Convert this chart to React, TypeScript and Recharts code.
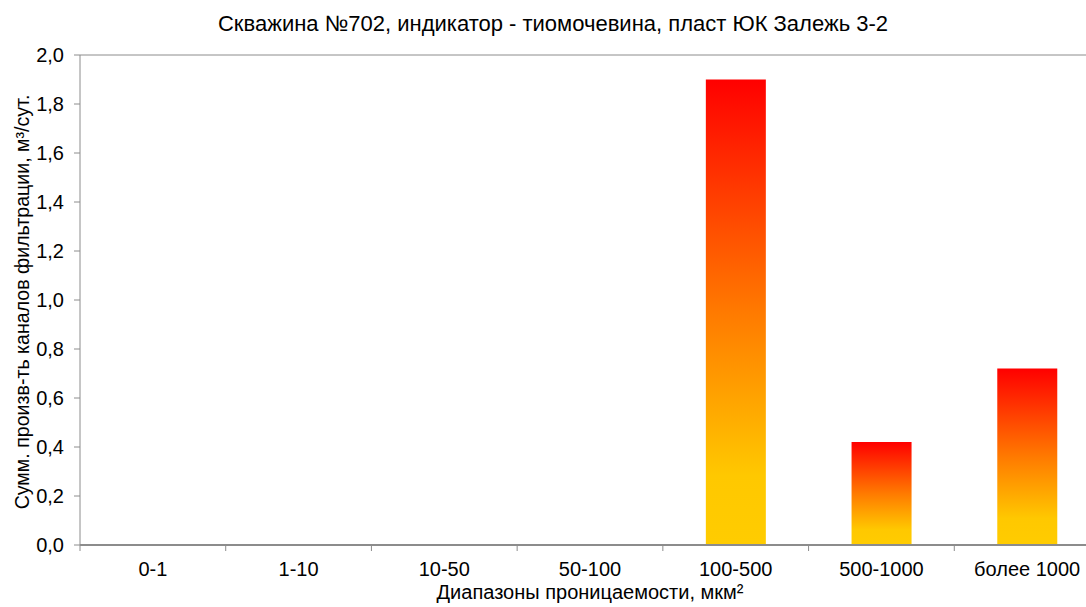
import React from 'react';
import { BarChart, Bar, XAxis, YAxis, ReferenceLine } from 'recharts';

// диапазоны проницаемости, мкм²
const ranges = ['0-1', '1-10', '10-50', '50-100', '100-500', '500-1000', 'более 1000'];
// суммарная производительность каналов, м³/сут.
const flowRates = [0, 0, 0, 0, 1.9, 0.42, 0.72];
const yTicks = [0, 0.2, 0.4, 0.6, 0.8, 1.0, 1.2, 1.4, 1.6, 1.8, 2.0];

const chartData = ranges.map((range, i) => ({ range, value: flowRates[i] }));

const FONT = '"Liberation Sans", Arial, sans-serif';
const AXIS_COLOR = '#8c8c8c';

// подпись категории + засечка на левой границе интервала
const RangeTick = ({ x, y, payload }: any) => {
  const half = payload.offset ?? 0;
  return (
    <g>
      <line x1={x - half} y1={y - 17} x2={x - half} y2={y - 11} stroke={AXIS_COLOR} strokeWidth={1} />
      <text x={x} y={y} dy={14} textAnchor="middle" fill="#000" fontSize={20} fontFamily={FONT}>
        {payload.value}
      </text>
    </g>
  );
};

const App: React.FC = () => {
  return (
    <div
      style={{
        position: 'absolute',
        left: 0,
        top: 0,
        width: 1086,
        height: 607,
        overflow: 'hidden',
        background: '#fff',
        fontFamily: FONT,
      }}
    >
      <div
        style={{
          position: 'absolute',
          left: 0,
          top: 10,
          width: 1106,
          textAlign: 'center',
          fontSize: 22,
          lineHeight: '28px',
          color: '#000',
        }}
      >
        Скважина №702, индикатор - тиомочевина, пласт ЮК Залежь 3-2
      </div>
      <div
        style={{
          position: 'absolute',
          left: 22 - 300,
          top: 302 - 12,
          width: 600,
          height: 24,
          textAlign: 'center',
          fontSize: 19.6,
          lineHeight: '24px',
          color: '#000',
          transform: 'rotate(-90deg)',
          whiteSpace: 'nowrap',
        }}
      >
        Сумм. произв-ть каналов фильтрации, м³/сут.
      </div>
      <BarChart
        width={1110}
        height={607}
        data={chartData}
        margin={{ top: 55, right: 10, bottom: 0, left: 0 }}
        barCategoryGap="29.5%"
      >
        <defs>
          <linearGradient id="barFill" x1="0" y1="0" x2="0" y2="1">
            <stop offset="0%" stopColor="#ff0000" />
            <stop offset="50%" stopColor="#ff7a00" />
            <stop offset="85%" stopColor="#ffc800" />
            <stop offset="100%" stopColor="#ffcc00" />
          </linearGradient>
        </defs>
        <XAxis
          dataKey="range"
          height={62}
          interval={0}
          tickLine={false}
          tickSize={6}
          tickMargin={11}
          axisLine={{ stroke: AXIS_COLOR, strokeWidth: 2 }}
          tick={<RangeTick />}
          label={{
            value: 'Диапазоны проницаемости, мкм²',
            position: 'insideBottom',
            offset: 8,
            fill: '#000',
            fontSize: 20,
            fontFamily: FONT,
          }}
        />
        <YAxis
          width={80}
          domain={[0, 2]}
          ticks={yTicks}
          interval={0}
          tickSize={6}
          tickMargin={10}
          tickFormatter={(v: number) => v.toFixed(1).replace('.', ',')}
          tick={{ fill: '#000', fontSize: 20, fontFamily: FONT }}
          tickLine={{ stroke: AXIS_COLOR }}
          axisLine={{ stroke: AXIS_COLOR }}
        />
        <ReferenceLine y={2} stroke={AXIS_COLOR} strokeWidth={1} />
        <Bar dataKey="value" fill="url(#barFill)" isAnimationActive={false} />
      </BarChart>
    </div>
  );
};

export default App;
